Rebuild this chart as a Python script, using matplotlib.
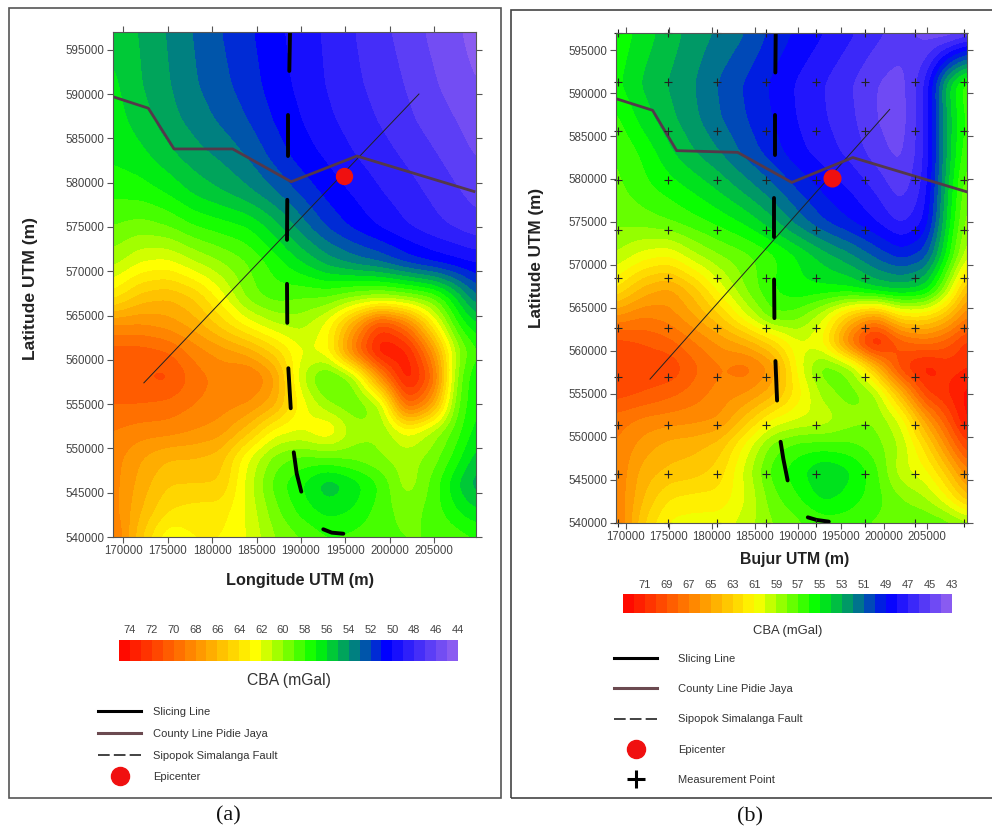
import numpy as np
import matplotlib
matplotlib.use("Agg")
import matplotlib.pyplot as plt
from matplotlib.colors import ListedColormap, BoundaryNorm
from matplotlib.cm import ScalarMappable
from matplotlib.lines import Line2D
from matplotlib.patches import Rectangle

plt.rcParams['font.family'] = ['Liberation Sans', 'DejaVu Sans']

W, H = 992, 832

x_grid = [168800, 172000, 175000, 178000, 181000, 184000, 187000, 190000,
          193000, 196000, 199000, 202000, 205000, 207500, 209700]
y_grid = [540000, 543000, 546000, 549000, 552000, 555000, 558000, 561000, 564000,
          567000, 571000, 575000, 579000, 583000, 587000, 591000, 597000]

# CBA, rows from south to north
cba_a = [
    [69.5, 65.0, 62.0, 63.0, 63.0, 62.0, 60.0, 59.0, 58.0, 58.3, 58.7, 59.0, 59.0, 58.5, 58.0],
    [68.5, 66.0, 64.0, 63.5, 63.5, 61.8, 59.3, 57.5, 56.5, 57.0, 58.5, 59.5, 58.5, 57.0, 56.0],
    [68.5, 66.5, 65.0, 65.0, 65.0, 61.5, 58.5, 57.0, 55.0, 56.3, 58.0, 60.8, 58.5, 56.0, 54.3],
    [68.5, 67.0, 66.0, 66.0, 65.5, 62.0, 59.5, 58.7, 59.0, 59.3, 60.0, 60.5, 59.5, 57.5, 55.5],
    [69.0, 68.5, 68.5, 68.0, 67.5, 65.5, 62.5, 62.0, 63.5, 60.5, 60.0, 62.5, 60.5, 58.5, 56.5],
    [70.0, 70.0, 69.7, 69.0, 68.5, 68.0, 66.5, 62.5, 60.0, 59.0, 60.5, 71.0, 67.0, 59.0, 57.0],
    [71.0, 71.0, 71.5, 69.5, 68.7, 69.5, 67.5, 61.0, 58.0, 60.0, 68.0, 74.5, 70.0, 59.5, 57.0],
    [70.5, 70.5, 70.0, 68.5, 67.5, 66.5, 64.5, 62.0, 62.5, 69.5, 74.5, 73.5, 67.5, 60.5, 58.0],
    [68.0, 68.0, 67.5, 66.5, 64.5, 62.5, 61.0, 60.5, 62.3, 67.0, 72.0, 69.0, 63.0, 58.0, 56.0],
    [63.5, 65.5, 66.0, 65.0, 62.5, 59.5, 58.5, 59.0, 59.0, 60.0, 60.5, 60.0, 59.0, 56.0, 53.0],
    [60.5, 62.0, 62.3, 61.0, 60.0, 59.0, 57.5, 56.0, 54.5, 53.5, 52.8, 51.5, 50.7, 50.2, 49.8],
    [59.0, 59.5, 59.0, 58.0, 57.5, 57.0, 55.5, 53.5, 51.8, 50.7, 49.8, 49.0, 48.3, 47.8, 47.3],
    [57.7, 57.5, 56.8, 55.7, 55.0, 54.2, 53.0, 51.7, 50.6, 49.8, 49.0, 48.4, 47.7, 47.1, 46.6],
    [56.8, 56.3, 55.3, 54.4, 53.8, 52.9, 51.6, 50.5, 49.8, 49.0, 48.4, 47.8, 47.1, 46.5, 45.9],
    [56.5, 55.5, 54.4, 53.6, 52.8, 52.0, 50.9, 50.0, 49.2, 48.5, 47.9, 47.2, 46.5, 46.0, 45.4],
    [56.3, 55.0, 54.1, 53.1, 52.3, 51.5, 50.5, 49.7, 48.9, 48.2, 47.6, 46.9, 46.1, 45.5, 45.0],
    [55.7, 54.9, 53.9, 52.9, 52.0, 51.2, 50.3, 49.5, 48.8, 48.0, 47.3, 46.5, 45.7, 45.2, 44.5],
]

# CBA
cba_b = [
    [67.5, 63.0, 60.7, 60.5, 60.5, 59.5, 58.0, 57.2, 56.5, 56.5, 57.2, 57.0, 57.0, 57.5, 58.5],
    [67.0, 64.0, 62.0, 61.7, 61.7, 60.0, 57.3, 56.0, 54.5, 55.3, 56.5, 58.0, 59.0, 61.0, 64.0],
    [67.0, 64.5, 63.8, 63.5, 62.5, 59.5, 56.5, 55.3, 53.8, 54.7, 56.5, 59.7, 60.7, 63.5, 67.0],
    [67.0, 65.5, 64.5, 64.3, 63.5, 60.5, 57.5, 56.5, 56.5, 56.7, 57.5, 59.0, 62.5, 66.5, 70.0],
    [67.5, 66.7, 66.5, 66.3, 66.0, 63.5, 60.8, 60.0, 59.8, 58.5, 58.0, 60.0, 65.5, 69.0, 72.5],
    [69.5, 69.0, 68.3, 67.5, 66.5, 66.0, 64.5, 61.5, 58.5, 57.3, 58.5, 64.0, 70.0, 71.0, 72.5],
    [69.8, 69.7, 70.0, 68.3, 67.0, 67.8, 66.0, 60.5, 57.0, 58.0, 63.5, 70.0, 72.0, 70.5, 71.0],
    [69.5, 69.0, 68.3, 67.0, 65.7, 64.5, 62.5, 60.0, 61.0, 67.5, 72.5, 68.5, 67.5, 68.5, 70.5],
    [66.0, 67.0, 66.5, 65.0, 63.0, 60.0, 57.0, 57.5, 59.8, 63.5, 66.0, 62.0, 62.0, 64.0, 67.0],
    [62.0, 64.5, 65.5, 63.5, 60.5, 57.8, 56.0, 55.2, 55.3, 55.2, 54.0, 53.7, 54.5, 59.0, 64.5],
    [59.0, 60.5, 61.0, 59.2, 58.0, 57.3, 56.3, 55.0, 53.5, 52.3, 50.8, 49.5, 50.5, 55.5, 60.0],
    [57.8, 57.5, 57.0, 56.3, 55.6, 54.7, 53.3, 51.5, 50.0, 49.0, 48.0, 46.6, 48.0, 54.5, 58.7],
    [57.3, 56.3, 55.5, 54.7, 53.7, 52.5, 51.2, 49.8, 48.7, 47.9, 46.8, 45.3, 47.3, 54.0, 58.0],
    [57.0, 55.8, 54.2, 53.0, 52.0, 50.6, 49.5, 48.3, 47.5, 46.7, 45.5, 44.6, 47.0, 53.5, 57.0],
    [56.3, 54.5, 53.3, 52.2, 51.0, 50.0, 49.0, 47.9, 47.1, 46.3, 45.0, 44.3, 47.0, 53.5, 56.5],
    [55.3, 53.8, 52.9, 52.0, 50.8, 49.8, 48.8, 47.8, 47.0, 46.1, 45.0, 44.4, 47.0, 54.0, 57.0],
    [55.8, 54.5, 53.5, 52.5, 51.8, 51.0, 49.7, 48.8, 48.0, 47.2, 46.3, 45.5, 44.5, 44.0, 45.0],
]

# overlays, map metres
county_a_x = [168800, 172800, 175700, 182300, 188900, 196300, 209500]
county_a_y = [589700, 588400, 583800, 583800, 580100, 583000, 579000]
slice_a_x = [172300, 203300]
slice_a_y = [557400, 590000]
fault_a = [
    ([188770, 188690], [597000, 592600]),
    ([188540, 188540], [587580, 583030]),
    ([188460, 188430], [578060, 573540]),
    ([188430, 188460], [568570, 564170]),
    ([188580, 188850], [559050, 554530]),
    ([189190, 189520, 190040], [549560, 547190, 545120]),
    ([192520, 193470, 194780], [540870, 540490, 540370]),
]
epi_a = (194800, 580800)

county_b_x = [169000, 173100, 175900, 183000, 189300, 196400, 209700]
county_b_y = [589300, 588000, 583300, 583100, 579600, 582500, 578500]
slice_b_x = [172800, 200700]
slice_b_y = [556700, 588100]
fault_b = [
    ([187430, 187390], [597000, 592400]),
    ([187310, 187310], [587400, 582800]),
    ([187240, 187240], [577800, 573200]),
    ([187240, 187280], [568300, 563800]),
    ([187400, 187590], [558800, 554200]),
    ([188000, 188320, 188820], [549400, 547400, 544900]),
    ([191170, 192180, 193610], [540600, 540300, 540100]),
]
epi_b = (194000, 580100)
meas_x = [169100, 174850, 180560, 186300, 192080, 197800, 203600, 209300]
meas_y = [540000, 545600, 551300, 557000, 562700, 568500, 574100, 579900, 585600, 591300, 597000]

x_ticks = list(range(170000, 210000, 5000))
y_ticks = list(range(540000, 600000, 5000))
bar_ticks_a = list(range(74, 42, -2))
bar_ticks_b = list(range(71, 41, -2))

cmap_colors = [(255, 0, 0), (255, 255, 0), (0, 255, 0), (0, 128, 128), (0, 0, 255), (150, 100, 240)]
anchors_a = [75, 62.5, 57, 53.5, 50.5, 44]
anchors_b = [73, 60.8, 55.3, 51.8, 48.8, 43]


def px_rect(left, top, right, bottom):
    return [left / W, 1 - bottom / H, (right - left) / W, (bottom - top) / H]


def band_cmap(levels, anchors):
    mids = (levels[:-1] + levels[1:]) / 2
    rgb = np.array(cmap_colors) / 255
    a = np.array(anchors)[::-1]
    cols = [np.interp(mids, a, rgb[::-1, i]) for i in range(3)]
    return ListedColormap(np.array(cols).T)


def smooth_along(arr, size, axis):
    # gaussian blur along one axis, only to round off the contour corners
    k = np.exp(-0.5 * (np.arange(-3 * size, 3 * size + 1) / size) ** 2)
    k = k / k.sum()
    pad = [(0, 0), (0, 0)]
    pad[axis] = (3 * size, 3 * size)
    padded = np.pad(arr, pad, mode='edge')
    return np.apply_along_axis(lambda v: np.convolve(v, k, mode='valid'), axis, padded)


def fine_field(z):
    # display grid for the contour fill, 100 m cells
    z = np.array(z)
    xf = np.arange(x_grid[0], x_grid[-1] + 100, 100)
    yf = np.arange(y_grid[0], y_grid[-1] + 100, 100)
    zf = np.array([np.interp(xf, x_grid, row) for row in z])
    zf = np.array([np.interp(yf, y_grid, zf[:, i]) for i in range(zf.shape[1])]).T
    zf = smooth_along(smooth_along(zf, 8, 0), 8, 1)
    return xf, yf, zf


def draw_map(rect, z, levels, anchors, xlim, ylim):
    ax = fig.add_axes(px_rect(*rect))
    cmap = band_cmap(levels, anchors)
    norm = BoundaryNorm(levels, cmap.N)
    xf, yf, zf = fine_field(z)
    ax.contourf(xf, yf, zf, levels=levels, cmap=cmap, norm=norm, extend='both')
    ax.set_xlim(*xlim)
    ax.set_ylim(*ylim)
    ax.set_xticks(x_ticks)
    ax.set_yticks(y_ticks)
    ax.tick_params(direction='out', length=4, width=0.8, color='#555555', top=True, right=True,
                   labelsize=8.3, labelcolor='#444444', pad=2)
    ax.ticklabel_format(style='plain', useOffset=False)
    for s in ax.spines.values():
        s.set_color('#555555')
        s.set_linewidth(0.8)
    return ax, cmap, norm


def draw_bar(rect, cmap, norm, ticks, size):
    cax = fig.add_axes(px_rect(*rect))
    cb = fig.colorbar(ScalarMappable(norm=norm, cmap=cmap), cax=cax, orientation='horizontal',
                      spacing='proportional')
    cb.outline.set_visible(False)
    cb.set_ticks(ticks)
    cb.minorticks_off()
    cax.invert_xaxis()
    cax.xaxis.set_ticks_position('top')
    cax.tick_params(length=0, labelsize=8, labelcolor='#444444', pad=3)
    cax.xaxis.set_label_position('bottom')
    cax.set_xlabel('CBA (mGal)', fontsize=size, color='#333333', labelpad=9)
    return cb


def overlay(ax, cx, cy, sx, sy, faults, epi, ms):
    ax.plot(sx, sy, color='#222222', lw=0.7)
    for fx, fy in faults:
        ax.plot(fx, fy, color='black', lw=2.8, solid_capstyle='round')
    ax.plot(cx, cy, color='#54384a', lw=2.0)
    ax.plot(*epi, 'o', color='#f01010', ms=ms)


fig = plt.figure(figsize=(W / 100, H / 100), dpi=100)

# panel frames, the right one runs off the edge of the picture
fig.add_artist(Rectangle((8.5 / W, 1 - 797.5 / H), 492.5 / W, 790 / H, transform=fig.transFigure,
                         fill=False, ec='#555555', lw=1.2))
fig.add_artist(Rectangle((510.5 / W, 1 - 798 / H), 500 / W, 788 / H, transform=fig.transFigure,
                         fill=False, ec='#444444', lw=1.2))

# panel (a)
levels_a = np.arange(44, 76, 1.0)
ax_a, cmap_a, norm_a = draw_map((113, 32, 476, 537), cba_a, levels_a, anchors_a, (168820, 209730), (540000, 597000))
overlay(ax_a, county_a_x, county_a_y, slice_a_x, slice_a_y, fault_a, epi_a, 11.5)
draw_bar((119, 639.5, 458, 660.5), cmap_a, norm_a, bar_ticks_a, 11.3)
fig.text(300 / W, 1 - 581 / H, 'Longitude UTM (m)', ha='center', va='center', fontsize=11.7, fontweight='bold', color='#222222')
fig.text(31 / W, 1 - 288.5 / H, 'Latitude UTM (m)', ha='center', va='center', rotation=90, fontsize=12.6, fontweight='bold', color='#222222')

# panel (b)
levels_b = np.arange(43, 74, 1.0)
ax_b, cmap_b, norm_b = draw_map((615.5, 33, 967, 522.5), cba_b, levels_b, anchors_b, (168780, 209700), (540000, 597000))
overlay(ax_b, county_b_x, county_b_y, slice_b_x, slice_b_y, fault_b, epi_b, 12)
mx, my = np.meshgrid(meas_x, meas_y)
ax_b.plot(mx.ravel(), my.ravel(), '+', color='#222222', ms=6, mew=0.8, clip_on=False)
draw_bar((623, 594, 951.5, 612.5), cmap_b, norm_b, bar_ticks_b, 9.4)
fig.text(795 / W, 1 - 559.5 / H, 'Bujur UTM (m)', ha='center', va='center', fontsize=11.4, fontweight='bold', color='#222222')
fig.text(537 / W, 1 - 257.5 / H, 'Latitude UTM (m)', ha='center', va='center', rotation=90, fontsize=12.3, fontweight='bold', color='#222222')

# legends
slice_h = Line2D([], [], color='black', lw=2.2)
county_h = Line2D([], [], color='#6b4a50', lw=2.2)
fault_h = Line2D([], [], color='#222222', lw=1.2, dashes=(7, 2.5))
epi_h_a = Line2D([], [], ls='', marker='o', color='#f01010', ms=13)
epi_h_b = Line2D([], [], ls='', marker='o', color='#f01010', ms=13)
meas_h = Line2D([], [], ls='', marker='+', color='black', ms=13, mew=2.2)

fig.legend([slice_h, county_h, fault_h, epi_h_a],
           ['Slicing Line', 'County Line Pidie Jaya', 'Sipopok Simalanga Fault', 'Epicenter'],
           loc='upper left', bbox_to_anchor=(98 / W, 1 - 707 / H), frameon=False, borderpad=0, borderaxespad=0,
           fontsize=8, handlelength=3.9, handletextpad=1.05, labelspacing=1.06, labelcolor='#333333')
fig.legend([slice_h, county_h, fault_h, epi_h_b, meas_h],
           ['Slicing Line', 'County Line Pidie Jaya', 'Sipopok Simalanga Fault', 'Epicenter', 'Measurement Point'],
           loc='upper left', bbox_to_anchor=(614 / W, 1 - 654 / H), frameon=False, borderpad=0, borderaxespad=0,
           fontsize=8, handlelength=3.9, handletextpad=1.9, labelspacing=1.82, labelcolor='#333333')

# captions
fig.text(228 / W, 1 - 816 / H, '(a)', ha='center', va='center', family='Liberation Serif', fontsize=16, color='#111111')
fig.text(750 / W, 1 - 817 / H, '(b)', ha='center', va='center', family='Liberation Serif', fontsize=16, color='#111111')

fig.savefig('out.png', dpi=100)
